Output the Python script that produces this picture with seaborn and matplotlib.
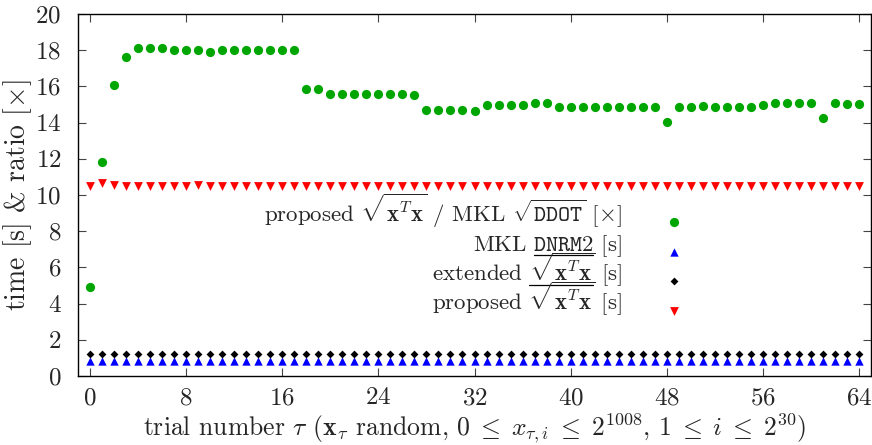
# coding: utf-8
"""Time and speed-up ratio per trial for the proposed sqrt(x^T x)."""

import matplotlib.pyplot as plt
import pandas as pd
import seaborn as sns
from matplotlib.lines import Line2D

TRIALS = list(range(65))

RATIO_VS_DDOT = [
    4.9, 11.8, 16.05, 17.65, 18.1, 18.1, 18.1, 18.02, 18.0, 18.02,
    17.88, 18.02, 18.0, 18.0, 18.0, 18.0, 18.02, 18.02, 15.83, 15.83,
    15.58, 15.58, 15.58, 15.58, 15.58, 15.58, 15.58, 15.55, 14.7, 14.7,
    14.7, 14.7, 14.66, 15.0, 15.0, 15.0, 15.0, 15.1, 15.1, 14.85,
    14.85, 14.85, 14.85, 14.86, 14.86, 14.86, 14.86, 14.86, 14.03, 14.86,
    14.86, 14.9, 14.86, 14.86, 14.86, 14.86, 14.99, 15.06, 15.06, 15.06,
    15.06, 14.24, 15.06, 15.01, 15.01,
]

MKL_DNRM2_S = [
    0.83, 0.83, 0.83, 0.83, 0.83, 0.83, 0.83, 0.83, 0.83, 0.83,
    0.83, 0.83, 0.83, 0.83, 0.83, 0.83, 0.83, 0.83, 0.84, 0.84,
    0.84, 0.84, 0.84, 0.84, 0.84, 0.84, 0.84, 0.84, 0.84, 0.84,
    0.84, 0.84, 0.84, 0.84, 0.84, 0.84, 0.84, 0.84, 0.84, 0.84,
    0.84, 0.84, 0.84, 0.84, 0.84, 0.84, 0.84, 0.84, 0.84, 0.84,
    0.84, 0.84, 0.84, 0.84, 0.84, 0.84, 0.84, 0.84, 0.84, 0.84,
    0.84, 0.84, 0.84, 0.84, 0.84,
]

EXTENDED_S = [
    1.21, 1.21, 1.21, 1.21, 1.21, 1.21, 1.21, 1.21, 1.21, 1.21,
    1.21, 1.21, 1.21, 1.21, 1.21, 1.21, 1.21, 1.21, 1.21, 1.21,
    1.21, 1.21, 1.21, 1.21, 1.21, 1.21, 1.21, 1.21, 1.21, 1.21,
    1.21, 1.21, 1.21, 1.21, 1.21, 1.21, 1.21, 1.21, 1.21, 1.21,
    1.21, 1.21, 1.21, 1.21, 1.21, 1.21, 1.21, 1.21, 1.21, 1.21,
    1.21, 1.21, 1.21, 1.21, 1.21, 1.21, 1.21, 1.21, 1.21, 1.21,
    1.21, 1.21, 1.21, 1.21, 1.21,
]

PROPOSED_S = [
    10.5, 10.65, 10.58, 10.47, 10.47, 10.47, 10.47, 10.47, 10.47, 10.53,
    10.47, 10.47, 10.47, 10.47, 10.47, 10.47, 10.47, 10.47, 10.47, 10.47,
    10.47, 10.47, 10.47, 10.47, 10.47, 10.47, 10.47, 10.47, 10.47, 10.47,
    10.47, 10.47, 10.47, 10.47, 10.47, 10.47, 10.47, 10.47, 10.47, 10.47,
    10.47, 10.47, 10.47, 10.47, 10.47, 10.47, 10.47, 10.47, 10.47, 10.47,
    10.47, 10.52, 10.47, 10.47, 10.47, 10.47, 10.47, 10.47, 10.47, 10.47,
    10.47, 10.47, 10.47, 10.47, 10.47,
]

LABELS = [
    r"proposed $\sqrt{\mathbf{x}^T\mathbf{x}}$ / MKL $\sqrt{\mathtt{DDOT}}$ [$\times$]",
    r"MKL $\mathtt{DNRM2}$ [s]",
    r"extended $\sqrt{\mathbf{x}^T\mathbf{x}}$ [s]",
    r"proposed $\sqrt{\mathbf{x}^T\mathbf{x}}$ [s]",
]

W, H = 872, 445
LEGEND_FS = 16.5
LEGEND_RIGHT_PX = 685
LEGEND_MARKERS_PX = [222, 251.5, 281, 310.5]

sns.set_style("ticks")
plt.rcParams.update({
    "font.family": ["cmr10"],
    "mathtext.fontset": "cm",
    "axes.formatter.use_mathtext": True,
    "axes.linewidth": 1.0,
    "font.size": 18,
})

df = pd.DataFrame({
    "trial": TRIALS,
    "ratio": RATIO_VS_DDOT,
    "dnrm2": MKL_DNRM2_S,
    "extended": EXTENDED_S,
    "proposed": PROPOSED_S,
})

fig = plt.figure(figsize=(W / 100, H / 100), dpi=100)
ax = fig.add_axes([78 / W, 1 - 376 / H, (871 - 78) / W, (376 - 14) / H])

series = [
    ("ratio", "#00a600", "o", 44),
    ("dnrm2", "#0000ff", "^", 36),
    ("extended", "#000000", "D", 16),
    ("proposed", "#ff0000", "v", 40),
]
for (col, color, marker, size), label in zip(series, LABELS):
    sns.scatterplot(data=df, x="trial", y=col, color=color, marker=marker,
                    s=size, linewidth=0, label=label, ax=ax, zorder=3, legend=False)

ax.set_xlim(-1, 65)
ax.set_ylim(0, 20)
ax.set_xticks(range(0, 65, 8))
ax.set_yticks(range(0, 21, 2))
ax.tick_params(direction="in", top=True, right=True, length=5.5, width=0.8,
               labelsize=18, color="#444444")
ax.tick_params(axis="x", pad=8)
ax.tick_params(axis="y", pad=12)
for spine in ax.spines.values():
    spine.set_visible(True)
    spine.set_color("black")

ax.set_xlabel(r"trial number $\tau$ ($\mathbf{x}_\tau$ random, "
              r"$0 \;\leq\; x_{\tau,i} \;\leq\; 2^{1008}$, $1 \;\leq\; i \;\leq\; 2^{30}$)",
              fontsize=18.5, labelpad=1.5)
ax.set_ylabel(r"time [s] & ratio [$\times$]", fontsize=20, labelpad=1)

# one legend per row so the rows can be stacked evenly
handles = ax.collections[:4]
legends = []
for h, lab in zip(handles, LABELS):
    leg = fig.legend([h], [lab], loc="lower right", markerfirst=False, frameon=False,
                     bbox_to_anchor=(LEGEND_RIGHT_PX / W, 0.5),
                     bbox_transform=fig.transFigure, fontsize=LEGEND_FS,
                     handlelength=1.0, handletextpad=1.75, borderpad=0,
                     borderaxespad=0, scatterpoints=1, scatteryoffsets=[0.0])
    legends.append(leg)

fig.canvas.draw()
renderer = fig.canvas.get_renderer()


def marker_y(leg):
    hd = leg.legend_handles[0]
    return hd.get_offset_transform().transform(hd.get_offsets())[0][1]


for leg, target in zip(legends, LEGEND_MARKERS_PX):
    shift = (H - target) - marker_y(leg)
    leg.set_bbox_to_anchor((LEGEND_RIGHT_PX / W, 0.5 + shift / H),
                           transform=fig.transFigure)
fig.canvas.draw()


def text_width(s):
    t = fig.text(0, 0, s, fontsize=LEGEND_FS)
    w = t.get_window_extent(renderer).width
    t.remove()
    return w


# underline parts of the legend text, as in the original
for idx, part, tail in [(1, r"$\mathtt{DNRM2}$", " [s]"),
                        (2, r"$\sqrt{\mathbf{x}^T\mathbf{x}}$", " [s]")]:
    t = legends[idx].get_texts()[0]
    bb = t.get_window_extent(renderer)
    base = t.get_transform().transform((0, 0))[1]
    w_tail = text_width(tail)
    w_part = text_width(part + tail)
    x0 = (bb.x1 - w_part) / W
    x1 = (bb.x1 - w_tail) / W
    y = (base - 3.5) / H
    fig.add_artist(Line2D([x0, x1], [y, y], color="black", linewidth=0.9,
                          transform=fig.transFigure))

fig.savefig("out.png", dpi=100)
